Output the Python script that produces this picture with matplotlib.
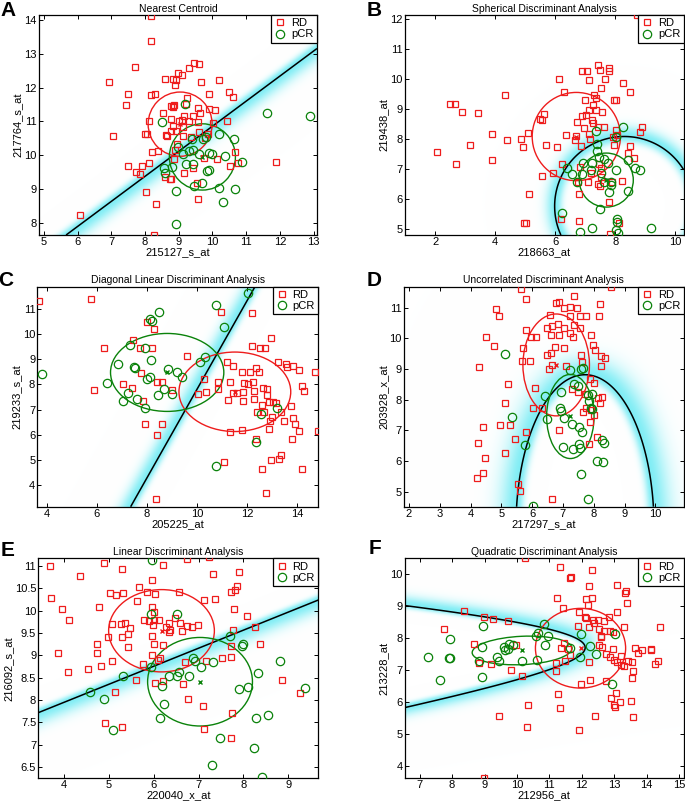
import numpy as np
import matplotlib
matplotlib.use('Agg')
import matplotlib.pyplot as plt
from matplotlib.patches import Ellipse

plt.rcParams['font.family'] = ['Liberation Sans', 'DejaVu Sans']

RED = '#ee1c1c'
GREEN = '#0a820a'

# ---------------- data ----------------
a_rd = np.array([
    (8.17, 14.13), (8.18, 13.39), (9.46, 12.74), (9.61, 12.71), (7.70, 12.62), (9.31, 12.57),
    (8.97, 12.42), (9.10, 12.36), (8.58, 12.25), (8.82, 12.25), (8.91, 12.24), (6.92, 12.17),
    (10.18, 12.22), (9.66, 12.18), (8.88, 12.07), (10.48, 11.88), (7.48, 11.80), (8.18, 11.78),
    (8.28, 11.81), (10.62, 11.73), (9.90, 11.80), (9.25, 11.69), (7.44, 11.50), (8.77, 11.47),
    (8.84, 11.45), (8.86, 11.48), (8.82, 11.43), (9.21, 11.51), (9.56, 11.40), (9.89, 11.37),
    (10.07, 11.35), (8.53, 11.24), (9.64, 11.26), (9.43, 11.17), (9.14, 11.16), (8.13, 11.02),
    (8.76, 11.06), (9.02, 11.02), (9.09, 11.04), (9.30, 11.02), (9.58, 10.99), (10.43, 11.02),
    (8.82, 10.88), (9.12, 10.84), (10.01, 10.94), (8.77, 10.71), (8.92, 10.71), (9.61, 10.68),
    (7.06, 10.57), (8.00, 10.64), (8.06, 10.62), (8.61, 10.60), (8.65, 10.56), (9.12, 10.58),
    (9.88, 10.64), (9.35, 10.53), (9.79, 10.50), (8.96, 10.34), (8.37, 10.14), (8.21, 10.10),
    (8.90, 10.17), (10.67, 10.10), (10.12, 9.90), (9.76, 9.93), (8.85, 9.90), (8.12, 9.78),
    (10.77, 9.78), (11.89, 9.80), (7.49, 9.69), (7.90, 9.69), (10.52, 9.69), (7.72, 9.51),
    (7.84, 9.44), (9.16, 9.46), (9.41, 9.61), (8.60, 9.36), (8.74, 9.31), (8.77, 9.29),
    (9.53, 9.18), (8.03, 8.91), (8.33, 8.56), (9.56, 8.71), (6.08, 8.24), (8.27, 7.63)])
a_pcr = np.array([
    (8.51, 10.99), (9.19, 11.53), (11.62, 11.26), (12.88, 11.17), (9.80, 10.55), (9.71, 10.47),
    (10.18, 10.64), (10.63, 10.47), (9.38, 10.47), (8.99, 10.25), (9.30, 10.13), (9.43, 10.15),
    (9.12, 10.05), (9.90, 10.07), (9.98, 10.05), (10.38, 9.99), (9.61, 10.03), (9.22, 9.75),
    (9.43, 9.75), (10.88, 9.80), (8.55, 9.61), (8.79, 9.66), (8.58, 9.46), (9.85, 9.52),
    (9.90, 9.57), (9.70, 9.19), (9.44, 9.09), (10.20, 9.04), (10.67, 9.00), (8.92, 8.95),
    (10.32, 8.62), (8.91, 7.96)])

b_rd = np.array([
    (8.74, 12.13), (7.43, 10.48), (7.78, 10.39), (7.49, 10.31), (7.78, 10.28), (6.89, 10.26),
    (7.07, 10.26), (6.12, 10.00), (7.12, 9.96), (7.66, 10.00), (7.51, 9.72), (8.26, 9.87),
    (6.28, 9.58), (8.49, 9.58), (4.32, 9.49), (7.28, 9.48), (7.36, 9.39), (2.49, 9.17),
    (2.66, 9.16), (2.89, 8.90), (3.43, 8.87), (6.98, 9.31), (7.96, 9.31), (8.01, 9.31),
    (7.26, 9.14), (7.12, 8.98), (7.37, 8.98), (7.57, 8.91), (5.64, 8.84), (5.49, 8.67),
    (5.57, 8.64), (6.90, 8.78), (7.04, 8.81), (6.73, 8.56), (7.21, 8.64), (6.97, 8.37),
    (7.42, 8.42), (7.61, 8.40), (7.26, 8.53), (8.89, 8.42), (3.88, 8.18), (5.09, 8.22),
    (4.38, 7.96), (4.86, 8.02), (6.37, 8.14), (6.70, 8.11), (7.12, 8.18), (6.67, 7.98),
    (7.17, 8.00), (8.01, 8.31), (8.06, 8.14), (8.82, 8.23), (7.94, 8.07), (7.97, 7.80),
    (8.49, 7.78), (3.17, 7.80), (5.70, 7.80), (6.07, 7.73), (4.92, 7.73), (2.07, 7.59),
    (6.87, 7.76), (8.44, 7.53), (8.61, 7.37), (3.88, 7.30), (2.70, 7.18), (6.23, 7.19),
    (6.81, 7.09), (7.46, 7.18), (7.19, 6.87), (5.57, 6.79), (5.93, 6.88), (7.53, 7.03),
    (7.51, 6.73), (7.10, 6.59), (6.77, 6.58), (7.43, 6.50), (7.49, 6.44), (7.88, 6.58),
    (8.23, 6.60), (7.78, 5.90), (6.79, 6.17), (5.11, 6.17), (6.20, 5.34), (6.80, 5.29),
    (8.14, 5.22), (4.97, 5.20), (5.04, 5.22), (7.83, 4.83)])
b_pcr = np.array([
    (8.27, 8.40), (7.37, 8.26), (8.01, 8.09), (7.39, 7.83), (7.39, 7.62), (7.46, 7.42),
    (7.64, 7.33), (7.76, 7.20), (7.23, 7.20), (6.94, 7.20), (7.19, 6.98), (8.44, 7.31),
    (8.66, 7.03), (8.83, 6.99), (8.03, 6.96), (6.39, 7.03), (6.57, 6.84), (6.89, 6.84),
    (7.53, 6.87), (7.86, 6.59), (7.87, 6.48), (6.73, 6.56), (7.64, 6.59), (7.78, 6.24),
    (8.42, 6.29), (7.48, 5.67), (6.23, 5.53), (8.07, 5.34), (8.07, 5.23), (8.03, 4.98),
    (8.10, 4.87), (7.23, 5.06), (6.81, 4.90), (9.18, 5.06)])

c_rd = np.array([
    (3.69, 11.32), (5.76, 11.40), (10.95, 10.87), (12.20, 10.83), (7.99, 10.47), (8.27, 10.19),
    (12.94, 9.86), (7.43, 9.77), (6.29, 9.46), (7.72, 9.44), (8.22, 9.45), (12.18, 9.54),
    (12.51, 9.44), (12.71, 9.46), (9.62, 9.14), (11.18, 8.88), (11.45, 8.73), (13.22, 8.88),
    (13.55, 8.81), (13.61, 8.68), (13.84, 8.75), (14.07, 8.57), (14.70, 8.51), (7.76, 8.44),
    (7.42, 7.87), (8.39, 8.10), (8.60, 8.11), (10.28, 8.21), (10.82, 8.08), (11.81, 8.48),
    (12.11, 8.48), (12.48, 8.48), (12.34, 8.64), (11.31, 8.08), (11.89, 8.04), (12.05, 8.00),
    (12.24, 8.11), (12.64, 7.88), (12.80, 7.82), (5.89, 7.78), (10.02, 7.62), (10.34, 7.70),
    (10.82, 7.83), (11.45, 7.68), (11.61, 7.67), (11.85, 7.71), (12.27, 7.74), (12.78, 7.58),
    (14.19, 7.95), (14.27, 7.75), (9.01, 7.80), (7.06, 8.03), (7.84, 7.35), (11.22, 7.39),
    (11.85, 7.35), (12.27, 7.41), (12.58, 7.18), (12.88, 7.31), (13.04, 7.31), (13.14, 7.27),
    (12.38, 6.92), (12.67, 6.92), (13.36, 6.92), (13.75, 7.14), (7.92, 6.41), (8.59, 6.41),
    (8.41, 6.01), (11.33, 6.12), (11.81, 6.20), (12.35, 5.85), (12.87, 6.25), (12.91, 6.54),
    (13.00, 6.72), (13.48, 6.54), (13.84, 6.68), (13.89, 6.41), (14.08, 6.15), (13.80, 5.83),
    (14.84, 6.15), (12.94, 4.99), (13.28, 5.02), (13.35, 5.19), (11.07, 4.90), (12.59, 4.62),
    (14.17, 4.62), (12.75, 3.67), (8.36, 3.43)])
c_pcr = np.array([
    (3.80, 8.40), (7.32, 9.59), (8.11, 10.62), (8.19, 10.52), (8.50, 10.89), (7.92, 9.44),
    (8.16, 8.97), (6.86, 8.80), (7.50, 8.71), (7.53, 8.67), (8.83, 8.61), (9.19, 8.48),
    (9.39, 8.28), (8.12, 8.31), (7.99, 8.20), (6.39, 8.04), (8.68, 7.82), (8.46, 7.60),
    (8.99, 7.64), (7.26, 7.67), (7.62, 7.42), (7.06, 7.35), (7.94, 7.07), (10.12, 8.90),
    (10.32, 9.10), (10.74, 11.16), (11.07, 10.27), (12.05, 11.62), (13.20, 7.07), (12.54, 6.84),
    (12.36, 5.72), (10.74, 4.77)])

d_rd = np.array([
    (5.65, 11.61), (8.57, 11.68), (5.80, 11.27), (7.35, 11.38), (4.84, 10.95), (4.92, 10.74),
    (6.78, 11.14), (6.87, 11.17), (7.05, 10.98), (7.24, 11.03), (7.47, 11.00), (8.19, 11.10),
    (7.24, 10.71), (7.56, 10.71), (7.76, 10.73), (8.16, 10.74), (6.59, 10.76), (5.81, 10.27),
    (4.49, 10.05), (5.97, 10.05), (6.11, 10.05), (6.48, 10.33), (6.65, 10.41), (6.84, 10.46),
    (7.02, 10.33), (7.35, 10.43), (7.56, 10.33), (6.62, 10.11), (6.87, 10.11), (7.22, 10.16),
    (7.32, 10.05), (7.92, 10.09), (7.97, 9.78), (8.03, 9.62), (4.77, 9.75), (6.73, 9.73),
    (7.05, 9.67), (5.70, 9.67), (7.57, 9.46), (6.48, 9.46), (6.62, 9.51), (8.25, 9.43),
    (8.36, 9.35), (5.67, 9.27), (5.92, 9.26), (4.27, 9.05), (6.65, 9.13), (6.54, 8.99),
    (7.11, 9.10), (7.63, 9.22), (8.24, 9.10), (7.88, 8.67), (8.02, 8.53), (5.20, 8.50),
    (6.08, 8.37), (7.30, 8.34), (7.49, 8.24), (7.70, 8.18), (8.13, 8.04), (8.27, 8.08),
    (8.21, 7.90), (5.12, 7.88), (6.02, 7.74), (6.33, 7.74), (7.76, 7.72), (7.92, 7.65),
    (7.65, 7.59), (8.00, 7.50), (4.42, 7.12), (4.94, 7.17), (5.27, 7.17), (7.89, 7.28),
    (6.86, 7.01), (5.81, 6.93), (8.11, 6.79), (5.45, 6.71), (7.83, 6.55), (4.25, 6.58),
    (5.12, 6.25), (4.48, 6.11), (4.40, 5.62), (4.22, 5.46), (5.55, 5.25), (5.62, 5.03),
    (6.65, 4.75)])
d_pcr = np.array([
    (5.13, 9.49), (7.22, 8.95), (7.59, 9.00), (7.65, 9.02), (7.36, 8.51), (7.49, 8.45),
    (7.95, 8.17), (7.81, 8.15), (6.43, 8.12), (6.95, 8.24), (7.84, 7.96), (6.91, 7.74),
    (6.95, 7.64), (7.05, 7.41), (6.48, 7.37), (7.90, 7.74), (7.95, 7.70), (5.34, 7.42),
    (7.29, 7.20), (7.51, 7.10), (7.62, 6.96), (8.27, 6.68), (8.33, 6.58), (5.76, 6.52),
    (7.00, 6.47), (7.32, 6.38), (7.52, 6.54), (7.54, 6.41), (8.10, 6.01), (8.30, 5.98),
    (7.58, 5.57), (7.81, 4.75), (6.03, 4.54)])

e_rd = np.array([
    (3.69, 10.99), (3.70, 10.29), (3.94, 10.04), (4.11, 9.79), (3.85, 9.06), (4.09, 8.62),
    (4.36, 10.78), (4.89, 11.07), (5.28, 10.93), (4.77, 10.09), (5.02, 10.39), (5.15, 10.34),
    (5.30, 10.40), (5.67, 10.52), (5.85, 10.42), (5.95, 10.68), (6.03, 10.37), (5.63, 10.22),
    (6.21, 11.02), (6.73, 11.15), (7.22, 11.19), (7.33, 10.81), (7.89, 10.86), (6.56, 10.42),
    (7.12, 10.24), (7.36, 10.27), (7.71, 10.41), (7.81, 10.46), (7.86, 10.55), (7.79, 10.03),
    (8.07, 9.88), (8.26, 9.64), (8.36, 9.26), (7.71, 9.22), (7.77, 9.57), (7.51, 8.95),
    (7.71, 8.96), (7.16, 8.88), (8.87, 8.44), (9.26, 8.15), (7.10, 7.87), (7.75, 7.72),
    (7.12, 7.35), (7.72, 7.16), (6.77, 8.02), (6.66, 8.36), (6.69, 8.86), (6.21, 8.43),
    (6.02, 8.38), (5.61, 8.44), (5.76, 8.80), (6.10, 8.90), (6.14, 8.95), (6.00, 9.25),
    (6.21, 9.23), (5.96, 9.00), (5.95, 9.44), (4.83, 8.76), (4.54, 8.70), (4.72, 9.05),
    (4.73, 9.26), (4.98, 9.40), (5.06, 9.70), (5.27, 9.70), (5.29, 9.42), (5.36, 9.73),
    (5.47, 9.62), (5.43, 9.47), (5.43, 9.18), (5.07, 8.88), (5.13, 8.17), (4.92, 7.48),
    (5.28, 7.39), (5.79, 9.79), (5.88, 9.77), (6.00, 9.78), (6.12, 9.79), (5.99, 9.67),
    (6.26, 9.64), (6.33, 9.73), (6.37, 9.57), (6.34, 9.53), (6.47, 9.83), (6.58, 9.73),
    (6.62, 9.55), (6.73, 9.66), (6.86, 9.64), (6.99, 9.68), (5.95, 10.07), (6.01, 9.98)])
e_pcr = np.array([
    (5.96, 11.13), (5.94, 9.92), (6.51, 9.92), (5.94, 8.73), (5.32, 8.54), (4.57, 8.18),
    (4.89, 8.03), (5.09, 7.32), (6.19, 8.32), (6.23, 7.91), (6.14, 7.59), (6.34, 8.54),
    (6.51, 8.54), (6.56, 8.62), (6.79, 8.54), (6.88, 8.95), (6.92, 8.88), (7.06, 8.73),
    (7.33, 8.86), (7.70, 9.44), (7.98, 9.25), (7.96, 9.20), (8.33, 8.60), (7.91, 8.25),
    (8.11, 8.30), (8.81, 8.88), (9.37, 8.28), (8.28, 7.59), (8.55, 7.66), (7.47, 7.15),
    (8.23, 6.92), (7.30, 6.54), (8.42, 6.28)])

f_rd = np.array([
    (10.24, 10.50), (11.34, 10.24), (12.30, 10.14), (11.63, 9.87), (11.66, 9.91), (12.22, 9.64),
    (13.07, 9.67), (13.33, 9.40), (13.35, 9.48), (13.38, 9.11), (11.22, 9.27), (12.14, 9.22),
    (12.30, 9.24), (12.19, 9.04), (11.42, 8.93), (11.92, 8.83), (8.37, 8.85), (8.98, 8.65),
    (9.26, 8.60), (9.72, 8.52), (12.09, 8.65), (12.12, 8.62), (12.35, 8.55), (12.49, 8.57),
    (12.69, 8.52), (12.83, 8.65), (11.88, 8.39), (12.21, 8.36), (12.39, 8.46), (12.53, 8.28),
    (12.69, 8.23), (12.86, 8.23), (12.95, 8.20), (13.07, 8.81), (13.30, 8.36), (14.42, 8.36),
    (7.75, 8.29), (8.68, 7.81), (11.46, 7.84), (11.36, 7.68), (11.58, 7.67), (9.96, 7.78),
    (12.60, 8.03), (12.58, 8.07), (12.53, 7.78), (12.63, 7.71), (12.96, 7.65), (13.63, 7.68),
    (13.73, 7.52), (13.87, 7.61), (14.14, 7.61), (14.14, 7.65), (12.76, 7.50), (12.86, 7.40),
    (12.99, 7.31), (13.07, 7.25), (13.20, 7.44), (13.22, 7.16), (13.30, 7.11), (13.43, 7.29),
    (13.55, 7.25), (13.58, 6.98), (13.55, 6.74), (14.27, 7.19), (14.35, 7.29), (11.65, 7.47),
    (11.47, 7.28), (11.20, 7.21), (11.20, 6.98), (12.21, 7.26), (8.83, 7.23), (9.21, 7.19),
    (9.83, 7.00), (10.15, 6.82), (11.28, 6.25), (11.97, 6.55), (12.26, 6.67), (12.76, 6.64),
    (12.91, 6.11), (13.04, 6.27), (12.98, 5.90), (13.01, 5.85), (13.19, 5.98), (13.53, 6.04),
    (10.34, 5.90), (11.32, 5.82), (12.42, 5.54), (13.58, 5.52), (9.44, 5.57), (10.32, 5.22),
    (11.92, 5.10), (8.98, 3.60)])
f_pcr = np.array([
    (7.27, 7.39), (7.62, 6.67), (7.93, 7.97), (7.90, 7.37), (7.95, 7.37), (8.95, 8.39),
    (8.93, 7.71), (8.83, 7.29), (8.92, 6.79), (9.37, 7.40), (9.45, 7.29), (9.59, 7.71),
    (9.62, 7.63), (9.72, 7.65), (9.75, 7.82), (9.88, 7.78), (10.17, 7.28), (10.58, 8.07),
    (10.66, 8.15), (10.84, 8.44), (10.97, 8.07), (10.62, 7.31), (10.86, 7.78), (11.65, 7.70),
    (11.93, 7.40), (11.97, 8.12), (12.43, 7.49), (12.24, 7.75), (13.02, 8.13), (12.93, 6.56)])

# class models: centre, sd-x, sd-y, correlation
a_model = {'rd': ((9.04, 10.92), 0.95, 0.95, 0.0), 'pcr': ((9.70, 9.95), 0.98, 0.98, 0.0)}
b_model = {'rd': ((6.70, 8.09), 1.47, 1.47, 0.0), 'pcr': ((7.70, 6.64), 0.90, 0.90, 0.0)}
c_model = {'rd': ((11.51, 7.71), 2.23, 1.58, 0.0), 'pcr': ((8.81, 8.48), 2.26, 1.55, 0.0)}
d_model = {'rd': ((6.78, 9.13), 1.08, 1.66, 0.0), 'pcr': ((7.24, 7.45), 0.77, 1.37, 0.0)}
e_model = {'rd': ((6.17, 9.55), 1.18, 0.92, 0.0), 'pcr': ((7.03, 8.41), 1.17, 0.99, 0.0)}
f_model = {'rd': ((11.96, 7.68), 1.39, 1.25, 0.0), 'pcr': ((10.16, 7.61), 1.54, 0.45, 0.15)}

# linear boundaries: slope, intercept, side of pCR (+1 below)
a_line = (0.741, 3.45, 1)
c_line = (1.764, -9.83, -1)
e_line = (0.403, 6.34, 1)


def cov_of(m):
    _, sx, sy, r = m
    return np.array([[sx * sx, r * sx * sy], [r * sx * sy, sy * sy]])


def logpdf(X, Y, m):
    c = np.array(m[0])
    S = cov_of(m)
    Si = np.linalg.inv(S)
    dx, dy = X - c[0], Y - c[1]
    q = Si[0, 0] * dx * dx + 2 * Si[0, 1] * dx * dy + Si[1, 1] * dy * dy
    return -0.5 * q - 0.5 * np.log(np.linalg.det(S))


def quad_g(model, bias):
    return lambda X, Y: logpdf(X, Y, model['pcr']) - logpdf(X, Y, model['rd']) + bias


def line_g(line):
    m, b, s = line
    return lambda X, Y: s * ((m * X + b) - Y)


panels = [
    dict(letter='A', title='Nearest Centroid', xl='215127_s_at', yl='217764_s_at',
         rd=a_rd, pcr=a_pcr, model=a_model, g=line_g(a_line), wpos=11, wneg=5,
         xlim=(4.85, 13.1), ylim=(7.64, 14.15), xt=range(5, 14), yt=range(8, 15),
         rect=[0.0569, 0.7066, 0.4058, 0.2747], lpos=(8.5, 11)),
    dict(letter='B', title='Spherical Discriminant Analysis', xl='218663_at', yl='219438_at',
         rd=b_rd, pcr=b_pcr, model=b_model, g=quad_g(b_model, -0.05), wpos=7, wneg=9,
         xlim=(0.98, 10.28), ylim=(4.81, 12.14), xt=range(2, 11, 2), yt=range(5, 13),
         rect=[0.5908, 0.7066, 0.4073, 0.2747], lpos=(374, 10.5)),
    dict(letter='C', title='Diagonal Linear Discriminant Analysis', xl='205225_at', yl='219233_s_at',
         rd=c_rd, pcr=c_pcr, model=c_model, g=line_g(c_line), wpos=10, wneg=5,
         xlim=(3.63, 14.84), ylim=(3.14, 11.89), xt=range(4, 15, 2), yt=range(4, 12),
         rect=[0.0545, 0.3674, 0.4102, 0.2747], lpos=(6, 280)),
    dict(letter='D', title='Uncorrelated Discriminant Analysis', xl='217297_s_at', yl='203928_x_at',
         rd=d_rd, pcr=d_pcr, model=d_model, g=quad_g(d_model, -0.24), wpos=7, wneg=16,
         xlim=(1.84, 10.92), ylim=(4.51, 11.68), xt=range(2, 11), yt=range(5, 12),
         rect=[0.5898, 0.3674, 0.4083, 0.2747], lpos=(374, 281)),
    dict(letter='E', title='Linear Discriminant Analysis', xl='220040_x_at', yl='216092_s_at',
         rd=e_rd, pcr=e_pcr, model=e_model, g=line_g(e_line), wpos=12, wneg=4,
         xlim=(3.42, 9.67), ylim=(6.25, 11.17), xt=range(4, 10), yt=np.arange(6.5, 11.01, 0.5),
         rect=[0.0559, 0.0283, 0.4088, 0.2747], lpos=(7.5, 551)),
    dict(letter='F', title='Quadratic Discriminant Analysis', xl='212956_at', yl='213228_at',
         rd=f_rd, pcr=f_pcr, model=f_model, g=quad_g(f_model, -0.14), wpos=4, wneg=8,
         xlim=(6.54, 15.14), ylim=(3.6, 10.5), xt=range(7, 16), yt=range(4, 11),
         rect=[0.5908, 0.0283, 0.4073, 0.2747], lpos=(374.5, 549)),
]

W, H = 685, 801
fig = plt.figure(figsize=(W / 100, H / 100), dpi=100)

for p in panels:
    ax = fig.add_axes(p['rect'])
    x0, x1 = p['xlim']
    y0, y1 = p['ylim']
    # pixels per data unit
    sx = p['rect'][2] * W / (x1 - x0)
    sy = p['rect'][3] * H / (y1 - y0)
    xs = np.linspace(x0, x1, 400)
    ys = np.linspace(y0, y1, 400)
    X, Y = np.meshgrid(xs, ys)
    G = p['g'](X, Y)
    gy, gx = np.gradient(G, ys, xs)
    gn = np.sqrt((gx / sx) ** 2 + (gy / sy) ** 2) + 1e-9
    d = G / gn
    w = np.where(d > 0, p['wpos'], p['wneg'])
    I = 0.5 * np.exp(-(d / w) ** 2)
    cyan = np.array([0.0, 0.86, 0.92])
    rgb = 1 - I[..., None] * (1 - cyan)
    ax.imshow(rgb, extent=(x0, x1, y0, y1), origin='lower', aspect='auto',
              interpolation='bilinear', zorder=0)
    ax.contour(X, Y, G, levels=[0], colors='k', linewidths=1.1, zorder=2)

    for key, col in (('rd', RED), ('pcr', GREEN)):
        m = p['model'][key]
        S = cov_of(m)
        vals, vecs = np.linalg.eigh(S)
        ang = np.degrees(np.arctan2(vecs[1, 1], vecs[0, 1]))
        ax.add_patch(Ellipse(m[0], 2 * np.sqrt(vals[1]), 2 * np.sqrt(vals[0]), angle=ang,
                             fill=False, edgecolor=col, linewidth=1.0, zorder=3))
        ax.plot(m[0][0], m[0][1], 'x', color=col, ms=3.5, mew=1.0, zorder=4)

    h1, = ax.plot(p['rd'][:, 0], p['rd'][:, 1], 's', mfc='none', mec=RED, ms=5, mew=0.9,
                  zorder=5)
    h2, = ax.plot(p['pcr'][:, 0], p['pcr'][:, 1], 'o', mfc='none', mec=GREEN, ms=6, mew=0.9,
                  zorder=5)

    ax.set_xlim(x0, x1)
    ax.set_ylim(y0, y1)
    ax.set_xticks(list(p['xt']))
    ax.set_yticks(list(p['yt']))
    if p['letter'] == 'E':
        ax.set_yticklabels(['%g' % v for v in p['yt']])
    ax.tick_params(direction='in', length=3, width=0.7, top=True, right=True,
                   labelsize=8, pad=1.5)
    for s in ax.spines.values():
        s.set_linewidth(0.9)
    ax.set_title(p['title'], fontsize=7.5, pad=2.5)
    ax.set_xlabel(p['xl'], fontsize=8, labelpad=0)
    ax.set_ylabel(p['yl'], fontsize=8, labelpad=1)
    leg = ax.legend([h1, h2], ['RD', 'pCR'], loc='upper right', fontsize=8, fancybox=False,
                    framealpha=1, edgecolor='black', borderaxespad=0, handlelength=1.0,
                    handletextpad=0.5, borderpad=0.3, labelspacing=0.1)
    leg.get_frame().set_linewidth(0.9)
    leg.set_zorder(10)
    lx, ly = p['lpos']
    fig.text(lx / W, 1 - ly / H, p['letter'], fontsize=15, fontweight='bold',
             ha='center', va='center')

fig.savefig('out.png', dpi=100)
